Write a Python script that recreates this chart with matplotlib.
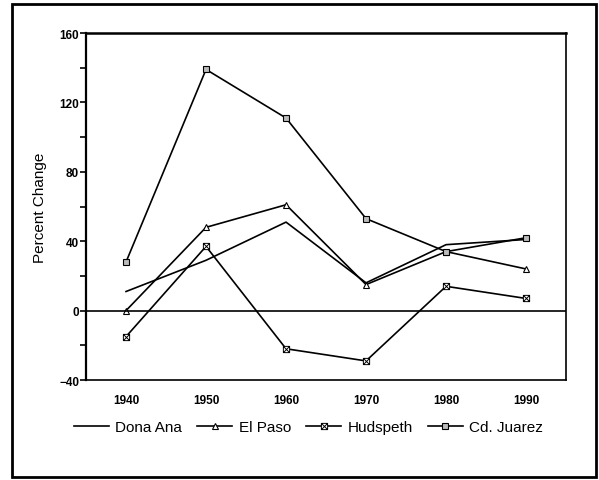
import matplotlib.pyplot as plt
from matplotlib.path import Path
from matplotlib.patches import Rectangle

plt.rcParams['font.family'] = ['Liberation Sans', 'DejaVu Sans']

years = [1940, 1950, 1960, 1970, 1980, 1990]
dona_ana = [11, 29, 51, 16, 38, 41]
el_paso = [0, 48, 61, 15, 34, 24]
hudspeth = [-15, 37, -22, -29, 14, 7]
cd_juarez = [28, 139, 111, 53, 34, 42]

# boxed x marker for Hudspeth
box_x = Path(
    [(-1, -1), (1, -1), (1, 1), (-1, 1), (-1, -1), (-1, -1), (1, 1), (-1, 1), (1, -1)],
    [Path.MOVETO, Path.LINETO, Path.LINETO, Path.LINETO, Path.CLOSEPOLY,
     Path.MOVETO, Path.LINETO, Path.MOVETO, Path.LINETO])

fig = plt.figure(figsize=(5.99, 4.81), dpi=100)
ax = fig.add_axes([0.1436, 0.2079, 0.8014, 0.7214])

lw = 1.2
ax.plot(years, dona_ana, color='black', lw=lw, label='Dona Ana')
ax.plot(years, el_paso, color='black', lw=lw, marker='^', ms=4,
        mfc='white', mec='black', mew=0.8, label='El Paso')
ax.plot(years, hudspeth, color='black', lw=lw, marker=box_x, ms=4.5,
        mfc='white', mec='black', mew=0.7, label='Hudspeth')
ax.plot(years, cd_juarez, color='black', lw=lw, marker='s', ms=4.5,
        mfc='#bbbbbb', mec='black', mew=0.8, label='Cd. Juarez')

ax.axhline(0, color='black', lw=1.2)

ax.set_xlim(1935, 1995)
ax.set_ylim(-40, 160)
ax.set_xticks(years)
ax.set_yticks([-40, 0, 40, 80, 120, 160])
ax.set_yticks([-20, 20, 60, 100, 140], minor=True)
ax.tick_params(axis='x', length=0, pad=10, labelsize=8.5)
ax.tick_params(axis='y', which='both', direction='out', length=4, width=1.2, labelsize=8.5, pad=1)
for lab in ax.get_xticklabels() + ax.get_yticklabels():
    lab.set_fontweight('bold')
for s in ax.spines.values():
    s.set_linewidth(1.2)
ax.spines['top'].set_linewidth(1.8)
ax.spines['left'].set_linewidth(1.6)

ax.set_ylabel('Percent Change', fontsize=11, labelpad=9)

fig.legend(loc='center', bbox_to_anchor=(0.515, 0.11), ncol=4, frameon=False,
           fontsize=11, handlelength=2.3, handletextpad=0.4, columnspacing=1.0)

# outer frame
fig.patches.append(Rectangle((0.02, 0.006), 0.975, 0.983, transform=fig.transFigure,
                             fill=False, lw=2.0, color='black'))

fig.savefig('out.png', dpi=100)
